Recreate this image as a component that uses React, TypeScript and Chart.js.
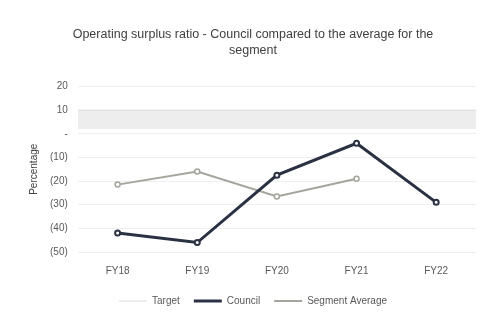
import React, { useEffect, useRef } from "react";
import { Chart, registerables } from "chart.js";

Chart.register(...registerables);

const categories = ["FY18", "FY19", "FY20", "FY21", "FY22"];
const councilValues = [-42, -46, -17.5, -4, -29];
const segmentValues: (number | null)[] = [-21.5, -16, -26.5, -19, null];
const targetUpper = 10;
const targetLower = 2;
const yTicks = [20, 10, 0, -10, -20, -30, -40, -50];

export default function App() {
  const ref = useRef<HTMLCanvasElement | null>(null);
  useEffect(() => {
    document.body.style.margin = "0";
    if (!ref.current) return;
    const chart = new Chart(ref.current, {
      type: "line",
      data: {
        labels: categories,
        datasets: [
          {
            label: "Target",
            data: [
              { x: 0, y: targetUpper },
              { x: 1, y: targetUpper },
            ],
            xAxisID: "x2",
            borderColor: "#dcdcdc",
            backgroundColor: "#ededed",
            borderWidth: 1,
            pointRadius: 0,
            fill: { value: targetLower },
          } as any,
          {
            label: "Council",
            data: councilValues,
            borderColor: "#2a3142",
            backgroundColor: "#2a3142",
            borderWidth: 3,
            pointRadius: 2.5,
            pointBackgroundColor: "#ffffff",
            pointBorderColor: "#2a3142",
            pointBorderWidth: 2,
            fill: false,
          },
          {
            label: "Segment Average",
            data: segmentValues,
            borderColor: "#a3a69c",
            backgroundColor: "#a3a69c",
            borderWidth: 2,
            pointRadius: 2.5,
            pointBackgroundColor: "#ffffff",
            pointBorderColor: "#a3a69c",
            pointBorderWidth: 1.5,
            fill: false,
          },
        ],
      },
      options: {
        animation: false,
        responsive: false,
        layout: { padding: { left: 28, right: 4, top: 20, bottom: 6 } },
        scales: {
          x: {
            type: "category",
            offset: true,
            grid: { display: false },
            border: { display: false },
            ticks: { color: "#595959", font: { size: 10, family: "Liberation Sans" }, padding: 5 },
          },
          x2: { type: "linear", min: 0, max: 1, display: false },
          y: {
            min: -50,
            max: 20,
            afterBuildTicks: (axis: any) => {
              axis.ticks = yTicks.map((v) => ({ value: v }));
            },
            grid: { color: "#eeeeee", drawTicks: false },
            border: { display: false },
            title: {
              display: true,
              text: "Percentage",
              color: "#404040",
              font: { size: 10, family: "Liberation Sans" },
              padding: { top: 0, bottom: 0 },
            },
            ticks: {
              color: "#595959",
              font: { size: 10, family: "Liberation Sans" },
              padding: 10,
              callback: (v: any) => (v === 0 ? "-" : v < 0 ? `(${-v})` : `${v}`),
            },
          },
        },
        plugins: {
          title: {
            display: true,
            text: ["Operating surplus ratio - Council compared to the average for the", "segment"],
            color: "#404040",
            font: { size: 12.5, weight: "normal", family: "Liberation Sans", lineHeight: 1.3 },
            padding: { top: 6, bottom: 28 },
          },
          legend: {
            position: "bottom",
            labels: {
              color: "#595959",
              font: { size: 10, family: "Liberation Sans" },
              usePointStyle: true,
              pointStyleWidth: 28,
              padding: 14,
              generateLabels: (c: any) =>
                Chart.defaults.plugins.legend.labels.generateLabels(c).map((l: any) => ({
                  ...l,
                  pointStyle: "line",
                  strokeStyle: (c.data.datasets[l.datasetIndex] as any).borderColor,
                  lineWidth: (c.data.datasets[l.datasetIndex] as any).borderWidth,
                })),
            },
          },
          tooltip: { enabled: false },
        },
      },
    });
    return () => chart.destroy();
  }, []);
  return (
    <div style={{ width: 482, height: 322, background: "#ffffff" }}>
      <canvas ref={ref} width={482} height={322} />
    </div>
  );
}
